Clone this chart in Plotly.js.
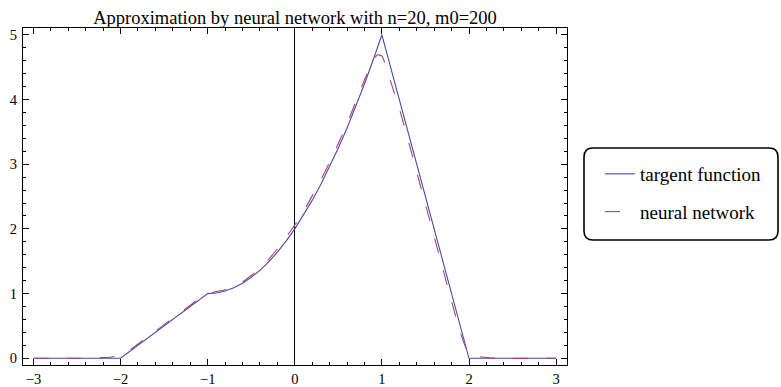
<!DOCTYPE html>
<html>
<head>
<meta charset="utf-8">
<script src="https://cdn.plot.ly/plotly-3.0.1.min.js"></script>
<style>html,body{margin:0;padding:0;background:#fff;}#chart{width:781px;height:387px;}</style>
</head>
<body>
<div id="chart"></div>
<script>
// Target function
const targetX = [-3, -2, -1, -0.9, -0.8, -0.7, -0.6, -0.5, -0.4, -0.3, -0.2, -0.1, 0, 0.1, 0.2, 0.3, 0.4, 0.5, 0.6, 0.7, 0.8, 0.9, 1, 2, 3];
const targetY = [0, 0, 1, 1.01, 1.04, 1.09, 1.16, 1.25, 1.36, 1.49, 1.64, 1.81, 2.00, 2.21, 2.44, 2.69, 2.96, 3.25, 3.56, 3.89, 4.24, 4.61, 5.00, 0, 0];

// Neural network approximation
const netX = [-3, -2.5, -2.3, -2.2, -2.1, -2.0, -1.9, -1.8, -1.7, -1.6, -1.5, -1.4, -1.3, -1.2, -1.1, -1.0, -0.9, -0.8, -0.7, -0.6, -0.5, -0.4, -0.3, -0.2, -0.1, 0, 0.1, 0.2, 0.3, 0.4, 0.5, 0.6, 0.7, 0.8, 0.9, 0.95, 1.0, 1.05, 1.1, 1.2, 1.3, 1.4, 1.5, 1.6, 1.7, 1.8, 1.9, 2.0, 2.1, 2.2, 2.4, 3];
const netY = [0, 0, 0.005, 0.01, 0.02, 0.05, 0.12, 0.22, 0.32, 0.42, 0.52, 0.62, 0.72, 0.82, 0.92, 0.99, 1.03, 1.06, 1.11, 1.18, 1.28, 1.39, 1.53, 1.69, 1.87, 2.06, 2.27, 2.51, 2.76, 3.03, 3.32, 3.63, 3.96, 4.30, 4.60, 4.69, 4.67, 4.50, 4.28, 3.86, 3.38, 2.88, 2.38, 1.88, 1.38, 0.88, 0.40, 0.07, 0.03, 0.01, 0, 0];

const seriesNames = ['targent function', 'neural network'];
const titleText = 'Approximation by neural network with n=20, m0=200';
const xTicks = [-3, -2, -1, 0, 1, 2, 3];
const yTicks = [0, 1, 2, 3, 4, 5];

const W = 781, H = 387;
const M = {l: 23, r: 214, t: 28, b: 22};
const pw = W - M.l - M.r, ph = H - M.t - M.b;
function px2x(p) { return (p - M.l) / pw; }
function px2y(p) { return (H - M.b - p) / ph; }

// rounded legend box (pixel geometry converted to paper coords)
const bx0 = 584, bx1 = 778, by0 = 148, by1 = 240, rad = 9;
function P(x, y) { return px2x(x).toFixed(5) + ',' + px2y(y).toFixed(5); }
const boxPath = 'M' + P(bx0 + rad, by0) + ' L' + P(bx1 - rad, by0) +
  ' Q' + P(bx1, by0) + ' ' + P(bx1, by0 + rad) +
  ' L' + P(bx1, by1 - rad) + ' Q' + P(bx1, by1) + ' ' + P(bx1 - rad, by1) +
  ' L' + P(bx0 + rad, by1) + ' Q' + P(bx0, by1) + ' ' + P(bx0, by1 - rad) +
  ' L' + P(bx0, by0 + rad) + ' Q' + P(bx0, by0) + ' ' + P(bx0 + rad, by0) + ' Z';

const serif = '"Liberation Serif", "Times New Roman", serif';

const traces = [
  {x: targetX, y: targetY, type: 'scatter', mode: 'lines', name: seriesNames[0],
   legendgroup: 'a', line: {color: '#4a4aaa', width: 1.1}},
  {x: netX, y: netY, type: 'scatter', mode: 'lines', name: seriesNames[1],
   legendgroup: 'b', line: {color: '#a8447a', width: 1.1, dash: '15px,18px', shape: 'spline', smoothing: 0.6}}
];

const axisCommon = {
  showgrid: false, showline: true, linecolor: '#000', linewidth: 1, mirror: 'ticks',
  ticks: 'inside', ticklen: 6, tickwidth: 1, tickcolor: '#000',
  tickfont: {family: serif, size: 14.5, color: '#000'},
  minor: {dtick: 0.2, ticks: 'inside', ticklen: 3, tickwidth: 1, tickcolor: '#000', showgrid: false}
};

const layout = {
  width: W, height: H, margin: M,
  paper_bgcolor: '#fff', plot_bgcolor: '#fff',
  title: {text: titleText, font: {family: serif, size: 18.5, color: '#000'},
          x: 0.5, xref: 'paper', xanchor: 'center', y: 1, yref: 'paper', yanchor: 'bottom', pad: {b: 4}},
  xaxis: Object.assign({}, axisCommon, {range: [-3.12, 3.125], tickvals: xTicks,
          zeroline: true, zerolinecolor: '#000', zerolinewidth: 1, ticklabelstandoff: 1}),
  yaxis: Object.assign({}, axisCommon, {range: [-0.104, 5.105], tickvals: yTicks, zeroline: false, ticklabelstandoff: 2}),
  showlegend: true,
  legend: {x: px2x(600), y: px2y(155), xanchor: 'left', yanchor: 'top', xref: 'paper', yref: 'paper',
           bgcolor: 'rgba(0,0,0,0)', borderwidth: 0, traceorder: 'grouped', tracegroupgap: 10,
           font: {family: serif, size: 19, color: '#000'}},
  shapes: [{type: 'path', xref: 'paper', yref: 'paper', path: boxPath,
            line: {color: '#000', width: 1.6}, fillcolor: 'rgba(0,0,0,0)'}]
};

Plotly.newPlot('chart', traces, layout, {displayModeBar: false, staticPlot: true});
</script>
</body>
</html>
